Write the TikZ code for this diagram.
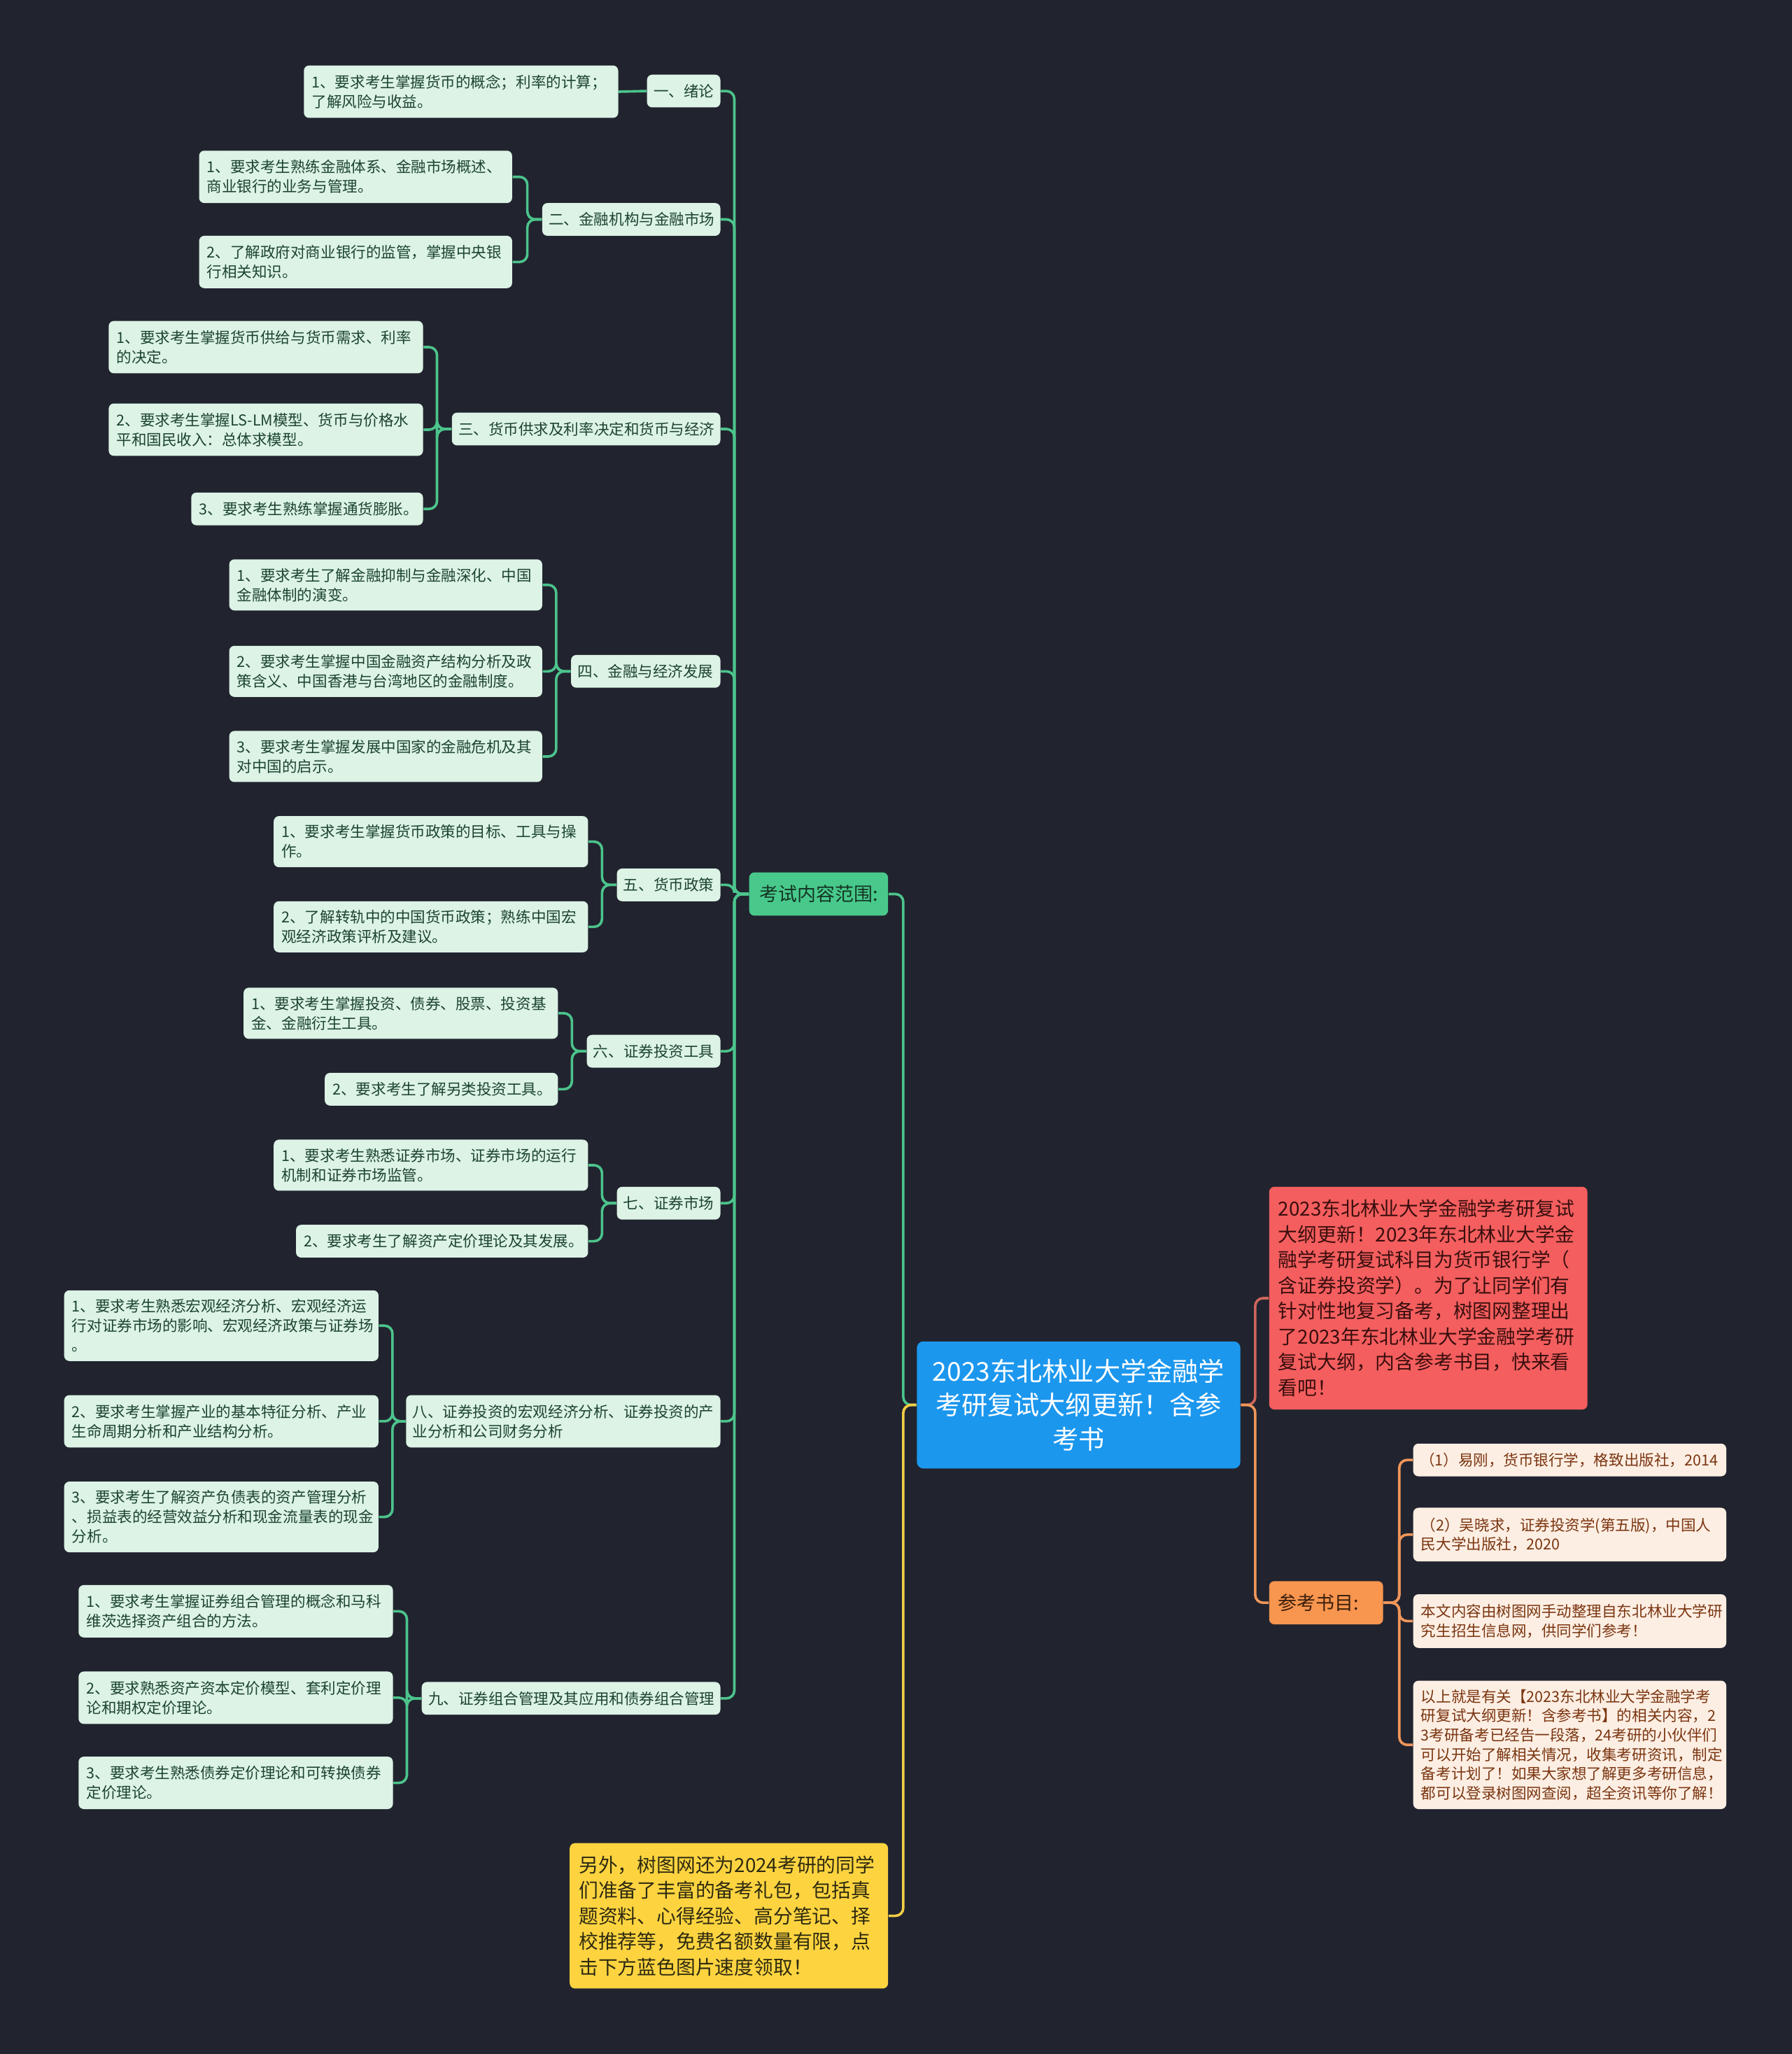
\documentclass[tikz,border=0pt]{standalone}
\usepackage{fontspec}
\setmainfont{Noto Sans CJK SC}
\definecolor{bg}{HTML}{21242F}
\definecolor{leaff}{HTML}{DCF3E5}
\definecolor{leaft}{HTML}{1D4430}
\definecolor{gbranch}{HTML}{48C98B}
\definecolor{gbrancht}{HTML}{143524}
\definecolor{gline}{HTML}{4CC48C}
\definecolor{rootc}{HTML}{1C97EE}
\definecolor{redf}{HTML}{F45E5E}
\definecolor{redt}{HTML}{3A0E0E}
\definecolor{redline}{HTML}{D0665C}
\definecolor{orf}{HTML}{F8954F}
\definecolor{ort}{HTML}{3A1F0C}
\definecolor{orline}{HTML}{F0965A}
\definecolor{yelf}{HTML}{FDD440}
\definecolor{yelt}{HTML}{2E2A10}
\definecolor{yline}{HTML}{F4CE45}
\definecolor{reff}{HTML}{FDEEE3}
\definecolor{reft}{HTML}{7A3510}
% #1 style, #2 name, #3 x1, #4 y1, #5 x2, #6 y2, #7 padding, #8 text
\newcommand\mmbox[8]{%
  \pgfmathsetmacro\mmh{(#6-#4)*0.02}%
  \pgfmathsetmacro\mmtw{(#5-#3-2*#7)*0.02}%
  \pgfmathsetmacro\mmpad{#7*0.02}%
  \node[#1, text width=\mmtw cm, inner xsep=\mmpad cm, inner ysep=0pt, minimum height=\mmh cm] (#2) at ({(#3+#5)/2},{(#4+#6)/2}) {#8};%
}
\begin{document}
\begin{tikzpicture}[x=0.02cm,y=-0.02cm,
  base/.style={rounded corners=0.08cm, align=left},
  leafst/.style={base, fill=leaff, text=leaft, font=\fontsize{6.55pt}{8.5pt}\selectfont},
  catst/.style={base, fill=leaff, text=leaft, font=\fontsize{6.55pt}{8.5pt}\selectfont},
  rootst/.style={base, rounded corners=0.1cm, fill=rootc, text=white, align=center, font=\fontsize{11.3pt}{14.8pt}\selectfont},
  kaost/.style={base, fill=gbranch, text=gbrancht, font=\fontsize{8.2pt}{10pt}\selectfont},
  canst/.style={base, fill=orf, text=ort, font=\fontsize{8.2pt}{10pt}\selectfont},
  redst/.style={base, fill=redf, text=redt, font=\fontsize{8.45pt}{11.1pt}\selectfont},
  yelst/.style={base, fill=yelf, text=yelt, font=\fontsize{8.45pt}{11.1pt}\selectfont},
  refst/.style={base, fill=reff, text=reft, font=\fontsize{6.55pt}{8.4pt}\selectfont},
  gcon/.style={draw=gline, line width=1.1pt, rounded corners=0.12cm},
  ycon/.style={draw=yline, line width=1.1pt, rounded corners=0.12cm},
  rcon/.style={draw=redline, line width=1.1pt, rounded corners=0.12cm},
  ocon/.style={draw=orline, line width=1.1pt, rounded corners=0.12cm},
]
\fill[bg] (0,0) rectangle (1368,1568);
\useasboundingbox (0,0) rectangle (1368,1568);

% central nodes
\mmbox{rootst}{root}{700}{1024}{947}{1121}{6}{2023东北林业大学金融学\\考研复试大纲更新！含参\\考书}
\mmbox{kaost}{kao}{572}{666}{678}{699}{8}{考试内容范围:}
\mmbox{yelst}{yel}{435}{1407}{678}{1518}{7}{另外，树图网还为2024考研的同学\\们准备了丰富的备考礼包，包括真\\题资料、心得经验、高分笔记、择\\校推荐等，免费名额数量有限，点\\击下方蓝色图片速度领取！}
\mmbox{redst}{red}{969}{906}{1212}{1076}{7}{2023东北林业大学金融学考研复试\\大纲更新！2023年东北林业大学金\\融学考研复试科目为货币银行学（\\含证券投资学）。为了让同学们有\\针对性地复习备考，树图网整理出\\了2023年东北林业大学金融学考研\\复试大纲，内含参考书目，快来看\\看吧！}
\mmbox{canst}{can}{969}{1207}{1056}{1240}{7}{参考书目:}

% references
\mmbox{refst}{r1}{1079}{1102}{1318}{1127}{5}{（1）易刚，货币银行学，格致出版社，2014}
\mmbox{refst}{r2}{1079}{1151}{1318}{1192}{6}{（2）吴晓求，证券投资学(第五版)，中国人\\民大学出版社，2020}
\mmbox{refst}{r3}{1079}{1217}{1318}{1258}{6}{本文内容由树图网手动整理自东北林业大学研\\究生招生信息网，供同学们参考！}
\mmbox{refst}{r4}{1079}{1283}{1318}{1381}{6}{以上就是有关【2023东北林业大学金融学考\\研复试大纲更新！含参考书】的相关内容，2\\3考研备考已经告一段落，24考研的小伙伴们\\可以开始了解相关情况，收集考研资讯，制定\\备考计划了！如果大家想了解更多考研信息，\\都可以登录树图网查阅，超全资讯等你了解！}

% categories
\mmbox{catst}{ca}{494}{57}{550}{82}{5}{一、绪论}
\mmbox{catst}{cb}{414}{155}{550}{180}{5}{二、金融机构与金融市场}
\mmbox{catst}{cc}{345}{315}{550}{340}{5}{三、货币供求及利率决定和货币与经济}
\mmbox{catst}{cd}{436}{500}{550}{525}{5}{四、金融与经济发展}
\mmbox{catst}{ce}{471}{663}{550}{688}{5}{五、货币政策}
\mmbox{catst}{cf}{448}{790}{550}{815}{5}{六、证券投资工具}
\mmbox{catst}{cg}{471}{906}{550}{931}{5}{七、证券市场}
\mmbox{catst}{ch}{310}{1065}{550}{1105}{5}{八、证券投资的宏观经济分析、证券投资的产\\业分析和公司财务分析}
\mmbox{catst}{ci}{322}{1284}{550}{1309}{5}{九、证券组合管理及其应用和债券组合管理}

% leaves
\mmbox{leafst}{la1}{232}{50}{472}{90}{6}{1、要求考生掌握货币的概念；利率的计算；\\了解风险与收益。}
\mmbox{leafst}{lb1}{152}{115}{391}{155}{6}{1、要求考生熟练金融体系、金融市场概述、\\商业银行的业务与管理。}
\mmbox{leafst}{lb2}{152}{180}{391}{220}{6}{2、了解政府对商业银行的监管，掌握中央银\\行相关知识。}
\mmbox{leafst}{lc1}{83}{245}{323}{285}{6}{1、要求考生掌握货币供给与货币需求、利率\\的决定。}
\mmbox{leafst}{lc2}{83}{308}{323}{348}{6}{2、要求考生掌握LS-LM模型、货币与价格水\\平和国民收入：总体求模型。}
\mmbox{leafst}{lc3}{146}{376}{323}{401}{6}{3、要求考生熟练掌握通货膨胀。}
\mmbox{leafst}{ld1}{175}{427}{414}{466}{6}{1、要求考生了解金融抑制与金融深化、中国\\金融体制的演变。}
\mmbox{leafst}{ld2}{175}{493}{414}{532}{6}{2、要求考生掌握中国金融资产结构分析及政\\策含义、中国香港与台湾地区的金融制度。}
\mmbox{leafst}{ld3}{175}{558}{414}{597}{6}{3、要求考生掌握发展中国家的金融危机及其\\对中国的启示。}
\mmbox{leafst}{le1}{209}{623}{449}{662}{6}{1、要求考生掌握货币政策的目标、工具与操\\作。}
\mmbox{leafst}{le2}{209}{688}{449}{727}{6}{2、了解转轨中的中国货币政策；熟练中国宏\\观经济政策评析及建议。}
\mmbox{leafst}{lf1}{186}{754}{426}{793}{6}{1、要求考生掌握投资、债券、股票、投资基\\金、金融衍生工具。}
\mmbox{leafst}{lf2}{248}{819}{426}{844}{6}{2、要求考生了解另类投资工具。}
\mmbox{leafst}{lg1}{209}{870}{449}{909}{6}{1、要求考生熟悉证券市场、证券市场的运行\\机制和证券市场监管。}
\mmbox{leafst}{lg2}{226}{935}{449}{960}{6}{2、要求考生了解资产定价理论及其发展。}
\mmbox{leafst}{lh1}{49}{985}{289}{1039}{6}{1、要求考生熟悉宏观经济分析、宏观经济运\\行对证券市场的影响、宏观经济政策与证券场\\。}
\mmbox{leafst}{lh2}{49}{1065}{289}{1105}{6}{2、要求考生掌握产业的基本特征分析、产业\\生命周期分析和产业结构分析。}
\mmbox{leafst}{lh3}{49}{1131}{289}{1185}{6}{3、要求考生了解资产负债表的资产管理分析\\、损益表的经营效益分析和现金流量表的现金\\分析。}
\mmbox{leafst}{li1}{60}{1210}{300}{1250}{6}{1、要求考生掌握证券组合管理的概念和马科\\维茨选择资产组合的方法。}
\mmbox{leafst}{li2}{60}{1276}{300}{1316}{6}{2、要求熟悉资产资本定价模型、套利定价理\\论和期权定价理论。}
\mmbox{leafst}{li3}{60}{1341}{300}{1381}{6}{3、要求考生熟悉债券定价理论和可转换债券\\定价理论。}

% connectors: root
\draw[gcon] (root.west) -- ++(-10,0) |- (kao.east);
\draw[ycon] (root.west) -- ++(-10,0) |- (yel.east);
\draw[rcon] (root.east) -- ++(11,0) |- (red.west);
\draw[ocon] (root.east) -- ++(11,0) |- (can.west);
% references
\foreach \r in {r1,r2,r3,r4} \draw[ocon] (can.east) -- ++(12,0) |- (\r.west);
% categories
\foreach \c in {ca,cb,cc,cd,ce,cf,cg,ch,ci} \draw[gcon] (kao.west) -- ++(-11,0) |- (\c.east);
% leaves
\draw[gcon] (ca.west) -- (la1.east);
\foreach \l in {lb1,lb2} \draw[gcon] (cb.west) -- ++(-11,0) |- (\l.east);
\foreach \l in {lc1,lc2,lc3} \draw[gcon] (cc.west) -- ++(-11,0) |- (\l.east);
\foreach \l in {ld1,ld2,ld3} \draw[gcon] (cd.west) -- ++(-11,0) |- (\l.east);
\foreach \l in {le1,le2} \draw[gcon] (ce.west) -- ++(-11,0) |- (\l.east);
\foreach \l in {lf1,lf2} \draw[gcon] (cf.west) -- ++(-11,0) |- (\l.east);
\foreach \l in {lg1,lg2} \draw[gcon] (cg.west) -- ++(-11,0) |- (\l.east);
\foreach \l in {lh1,lh2,lh3} \draw[gcon] (ch.west) -- ++(-10,0) |- (\l.east);
\foreach \l in {li1,li2,li3} \draw[gcon] (ci.west) -- ++(-11,0) |- (\l.east);
\end{tikzpicture}
\end{document}
